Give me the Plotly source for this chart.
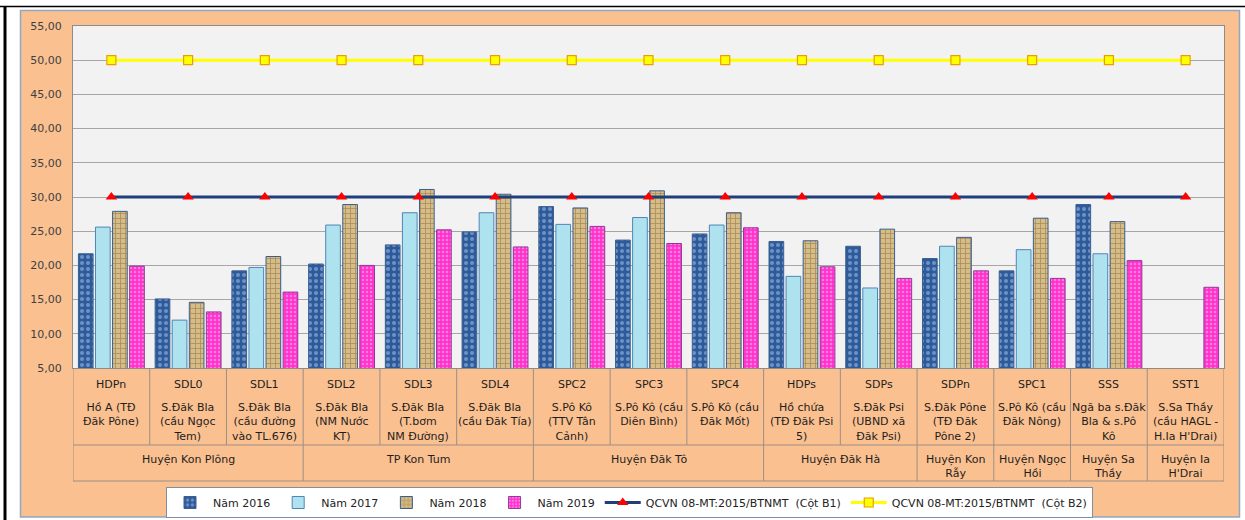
import plotly.graph_objects as go

# Monitoring stations (code, description) and the district each belongs to
codes = ["HDPn", "SDL0", "SDL1", "SDL2", "SDL3", "SDL4", "SPC2", "SPC3",
         "SPC4", "HDPs", "SDPs", "SDPn", "SPC1", "SSS", "SST1"]
stations = [
    "Hồ A (TĐ<br>Đăk Pône)",
    "S.Đăk Bla<br>(cầu Ngọc<br>Tem)",
    "S.Đăk Bla<br>(cầu đường<br>vào TL.676)",
    "S.Đăk Bla<br>(NM Nước<br>KT)",
    "S.Đăk Bla<br>(T.bơm<br>NM Đường)",
    "S.Đăk Bla<br>(cầu Đăk Tía)",
    "S.Pô Kô<br>(TTV Tân<br>Cảnh)",
    "S.Pô Kô (cầu<br>Diên Bình)",
    "S.Pô Kô (cầu<br>Đăk Mốt)",
    "Hồ chứa<br>(TĐ Đăk Psi<br>5)",
    "S.Đăk Psi<br>(UBND xã<br>Đăk Psi)",
    "S.Đăk Pône<br>(TĐ Đăk<br>Pône 2)",
    "S.Pô Kô (cầu<br>Đăk Nông)",
    "Ngã ba s.Đăk<br>Bla & s.Pô<br>Kô",
    "S.Sa Thầy<br>(cầu HAGL -<br>H.Ia H'Drai)",
]
districts = ["Huyện Kon Plông", "TP Kon Tum", "Huyện Đăk Tô", "Huyện Đăk Hà",
             "Huyện Kon<br>Rẫy", "Huyện Ngọc<br>Hồi", "Huyện Sa<br>Thầy",
             "Huyện Ia<br>H'Drai"]
district_sizes = [3, 3, 3, 2, 1, 1, 1, 1]

# Measured values per year
y2016 = [21.7, 15.1, 19.2, 20.2, 23.0, 24.9, 28.6, 23.7, 24.6, 23.5, 22.8, 21.0, 19.2, 28.9, None]
y2017 = [25.6, 12.0, 19.7, 25.9, 27.7, 27.7, 26.0, 27.0, 25.9, 18.4, 16.7, 22.8, 22.3, 21.7, None]
y2018 = [27.9, 14.6, 21.3, 28.9, 31.1, 30.4, 28.4, 30.9, 27.7, 23.6, 25.3, 24.1, 26.9, 26.4, None]
y2019 = [19.9, 13.2, 16.1, 20.0, 25.2, 22.7, 25.7, 23.2, 25.5, 19.8, 18.1, 19.2, 18.1, 20.7, 16.8]

# Regulation limits (QCVN 08-MT:2015/BTNMT)
limit_b1 = [30.0] * len(codes)
limit_b2 = [50.0] * len(codes)

FONT = "DejaVu Sans"
ORANGE = "#FAC090"

# Page geometry (pixels) used to place the label table under the plot
W, H = 1245, 520
L, R, T, B = 73, 1224, 26, 368


def py(p):
    """Convert a vertical pixel position to paper coordinates."""
    return (B - p) / (B - T)


def px(p):
    """Convert a horizontal pixel position to paper coordinates."""
    return (p - L) / (R - L)


fig = go.Figure()

bar_line = dict(color="#3A5F8F", width=1)
fig.add_bar(name="Năm 2016", x=codes, y=y2016,
            marker=dict(color="#2F5A9A", line=bar_line,
                        pattern=dict(shape=".", fgcolor="#A9CBEF", bgcolor="#2F5A9A",
                                     size=6, solidity=0.35)))
fig.add_bar(name="Năm 2017", x=codes, y=y2017,
            marker=dict(color="#ADE2EE", line=dict(color="#4F86B8", width=1)))
fig.add_bar(name="Năm 2018", x=codes, y=y2018,
            marker=dict(color="#C7A86C", line=bar_line,
                        pattern=dict(shape="+", fgcolor="#7D6034", bgcolor="#D6BC86",
                                     size=5, solidity=0.3)))
fig.add_bar(name="Năm 2019", x=codes, y=y2019,
            marker=dict(color="#FF33CC", line=dict(color="#8E3A9A", width=1),
                        pattern=dict(shape=".", fgcolor="#FFC2F0", bgcolor="#FF33CC",
                                     size=4, solidity=0.3)))

fig.add_scatter(name="QCVN 08-MT:2015/BTNMT  (Cột B1)", x=codes, y=limit_b1,
                mode="lines+markers",
                line=dict(color="#1F3F7A", width=3),
                marker=dict(symbol="triangle-up", size=10, color="#FF0000",
                            line=dict(width=0)))
fig.add_scatter(name="QCVN 08-MT:2015/BTNMT  (Cột B2)", x=codes, y=limit_b2,
                mode="lines+markers",
                line=dict(color="#FFFF00", width=3),
                marker=dict(symbol="square", size=9, color="#FFFF00",
                            line=dict(color="#E8A000", width=1.2)))

shapes = []
# outer frame lines
shapes.append(dict(type="line", xref="paper", yref="paper",
                   x0=px(0), x1=px(W), y0=py(6.5), y1=py(6.5),
                   line=dict(color="#000000", width=1.5), layer="below"))
shapes.append(dict(type="line", xref="paper", yref="paper",
                   x0=px(5), x1=px(5), y0=py(6), y1=py(H),
                   line=dict(color="#000000", width=3), layer="below"))
# chart area and plot area backgrounds
shapes.append(dict(type="rect", xref="paper", yref="paper",
                   x0=px(20.5), x1=px(1239.5), y0=py(10.5), y1=py(517),
                   fillcolor=ORANGE, line=dict(color="#8FA7C2", width=1.5),
                   layer="below"))
shapes.append(dict(type="rect", xref="paper", yref="paper",
                   x0=0, x1=1, y0=0, y1=1,
                   fillcolor="#F2F2F2", line=dict(width=0), layer="below"))

# label table under the x axis
grid_col = "#9C8F86"
n = len(codes)
row1 = py(445)
row2 = py(481)
for i in range(n + 1):
    shapes.append(dict(type="line", xref="x", yref="paper",
                       x0=i - 0.5, x1=i - 0.5, y0=0, y1=row1,
                       line=dict(color=grid_col, width=1)))
edges = [0]
for s in district_sizes:
    edges.append(edges[-1] + s)
for e in edges:
    shapes.append(dict(type="line", xref="x", yref="paper",
                       x0=e - 0.5, x1=e - 0.5, y0=row1, y1=row2,
                       line=dict(color=grid_col, width=1)))
for yy in (row1, row2):
    shapes.append(dict(type="line", xref="x", yref="paper",
                       x0=-0.5, x1=n - 0.5, y0=yy, y1=yy,
                       line=dict(color=grid_col, width=1)))

annotations = []
txt_font = dict(family=FONT, size=11, color="#1E1E1E")
for i, (c, s) in enumerate(zip(codes, stations)):
    annotations.append(dict(x=c, xref="x", y=py(384), yref="paper",
                            text=c, showarrow=False, yanchor="middle",
                            font=txt_font))
    annotations.append(dict(x=c, xref="x", y=py(399), yref="paper",
                            text=s, showarrow=False, yanchor="top",
                            font=txt_font))
for d, a, b in zip(districts, edges[:-1], edges[1:]):
    annotations.append(dict(x=(a + b - 1) / 2, xref="x", y=py(451), yref="paper",
                            text=d, showarrow=False, yanchor="top",
                            font=txt_font))

fig.update_layout(
    width=W, height=H,
    margin=dict(l=L, r=W - R, t=T, b=H - B, autoexpand=False),
    paper_bgcolor="white",
    plot_bgcolor="rgba(0,0,0,0)",
    separators=", ",
    barmode="group",
    bargap=0.11,
    bargroupgap=0.14,
    font=dict(family=FONT, size=11, color="#333333"),
    shapes=shapes,
    annotations=annotations,
    showlegend=True,
    legend=dict(orientation="h", x=px(629.5), xanchor="center",
                y=py(487), yanchor="top",
                bgcolor="white", bordercolor="#7F8FA6", borderwidth=1,
                font=dict(family=FONT, size=11, color="#222222"),
                itemwidth=36, traceorder="normal"),
)
fig.update_xaxes(type="category", range=[-0.5, n - 0.5], showticklabels=False,
                 showgrid=False, showline=True, linecolor="#8C8C8C", linewidth=1,
                 mirror=True, ticks="", fixedrange=True)
fig.update_yaxes(range=[5, 55], dtick=5, tick0=5, tickformat=".2f",
                 showgrid=True, gridcolor="#A6A6A6", gridwidth=1,
                 showline=True, linecolor="#8C8C8C", linewidth=1, mirror=True,
                 ticks="", ticklabelstandoff=8, zeroline=False,
                 tickfont=dict(family=FONT, size=11, color="#404040"))

fig.write_html("out.html")
